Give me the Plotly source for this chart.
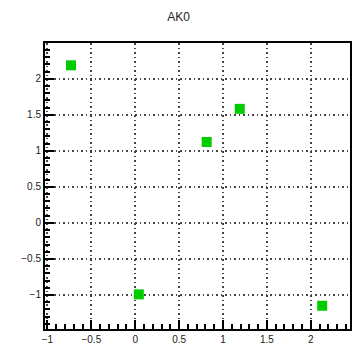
import plotly.graph_objects as go

title = "AK0"
x_vals = [-0.732, 0.814, 1.191, 0.041, 2.130]
y_vals = [2.187, 1.123, 1.583, -0.992, -1.150]
x_range = [-1.028, 2.447]
y_range = [-1.473, 2.497]

fig = go.Figure()
fig.add_trace(go.Scatter(
    x=x_vals, y=y_vals, mode="markers",
    marker=dict(symbol="square", size=10, color="#00cc00", line=dict(width=0)),
    showlegend=False,
))

axis_common = dict(
    showline=True, mirror=True, linecolor="black", linewidth=2,
    ticks="inside", ticklen=9, tickcolor="black", tickwidth=1.5,
    showgrid=True, gridcolor="#444444", griddash="1.5px,3px", gridwidth=1.5,
    zeroline=False,
    tickfont=dict(family="Liberation Sans, Arial, sans-serif", size=10, color="#222222"),
    dtick=0.5, tick0=0,
    minor=dict(dtick=0.1, ticks="inside", ticklen=5, tickcolor="black", tickwidth=1.5, showgrid=False),
)

fig.update_xaxes(range=x_range, **axis_common)
fig.update_yaxes(range=y_range, **axis_common)

fig.update_layout(
    width=357, height=350,
    margin=dict(l=45, r=5, t=43, b=16),
    paper_bgcolor="white", plot_bgcolor="white",
    title=dict(text=title, x=0.5, xanchor="center", y=0.953, yanchor="middle",
               font=dict(family="Liberation Sans, Arial, sans-serif", size=12, color="#222222")),
)

fig.write_html("out.html")
